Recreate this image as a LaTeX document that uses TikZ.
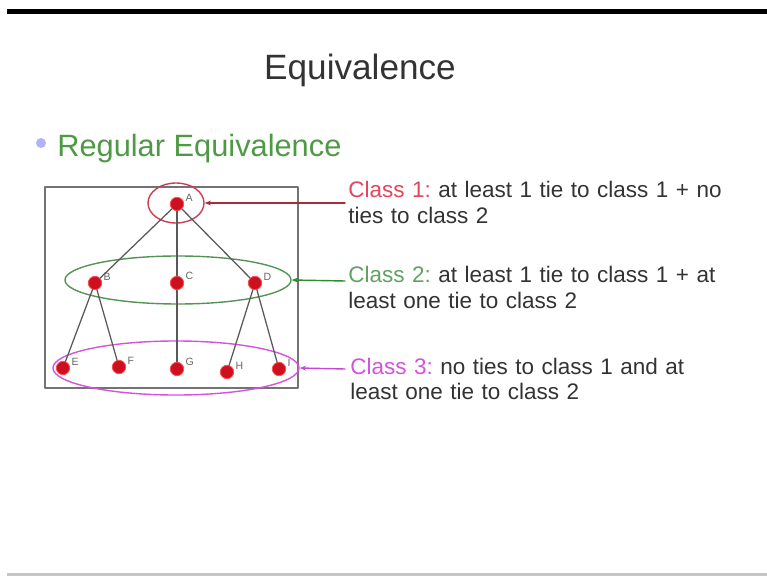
\documentclass[tikz,border=0pt]{standalone}
\usepackage{fontspec}
\setmainfont{Liberation Sans}
\usetikzlibrary{arrows.meta,shapes.geometric}

\definecolor{txtgray}{HTML}{333333}
\definecolor{subgreen}{HTML}{4E9A44}
\definecolor{cls1}{HTML}{E0465E}
\definecolor{cls2}{HTML}{5FA35F}
\definecolor{cls3}{HTML}{D452DC}
\definecolor{arr1}{HTML}{A82A3C}
\definecolor{arr2}{HTML}{2E8B2E}
\definecolor{arr3}{HTML}{C646D6}
\definecolor{dotred}{HTML}{CC1020}

\frenchspacing
\tikzset{
    vertex/.style={circle, fill=dotred, draw=red!70!white, line width=0.6pt, minimum size=9.5pt, inner sep=0pt},
    vlabel/.style={font=\fontsize{7.5}{7.5}\selectfont, text=gray!80!black, inner sep=1pt},
    tie/.style={draw=black!65, line width=0.9pt},
    classring/.style={ellipse, draw, line width=1pt, inner sep=0pt},
    classtext/.style={anchor=base west, inner sep=0pt, text width=10.5cm, align=left,
        font=\fontsize{16}{17.8}\selectfont, text=txtgray},
    pointer/.style={line width=1pt, -{Stealth[length=4.5pt, width=3.5pt]}}
}

\begin{document}
\begin{tikzpicture}[x=0.025cm, y=-0.025cm, line join=round, line cap=round]
    \useasboundingbox (0,0) rectangle (767,576);

    % slide frame
    \fill[black] (7,9) rectangle (767,14);
    \fill[gray!45] (7,573) rectangle (767,576);

    % heading
    \node[font=\fontsize{25}{25}\selectfont, text=txtgray, anchor=base] (title) at (360,80) {Equivalence};
    \fill[blue!30!white] (41,143) circle (5);
    \node[font=\fontsize{21.9}{21.9}\selectfont, text=subgreen, anchor=base west, inner sep=0pt] (sub) at (57,157) {Regular Equivalence};

    % network box
    \draw[black!55, line width=0.8pt] (45,187) rectangle (298,388);

    % class rings
    \node[classring, draw=cls1!90!black, minimum width=1.4cm, minimum height=1.0cm] (ring1) at (176,203) {};
    \node[classring, draw=cls2!90!black, minimum width=5.65cm, minimum height=1.2cm] (ring2) at (178,280) {};
    \node[classring, draw=cls3, minimum width=6.15cm, minimum height=1.35cm] (ring3) at (176,368) {};

    % vertices
    \node[vertex, label={[vlabel]10:A}] (A) at (177,204) {};
    \node[vertex, label={[vlabel]10:B}] (B) at (95,283) {};
    \node[vertex, label={[vlabel]10:C}] (C) at (177,283) {};
    \node[vertex, label={[vlabel]10:D}] (D) at (255,283) {};
    \node[vertex, label={[vlabel]10:E}] (E) at (63,368) {};
    \node[vertex, label={[vlabel]10:F}] (F) at (119,367) {};
    \node[vertex, label={[vlabel]10:G}] (G) at (177,369) {};
    \node[vertex, label={[vlabel]10:H}] (H) at (227,372) {};
    \node[vertex, label={[vlabel]10:I}] (I) at (279,369) {};

    % ties
    \foreach \u/\v in {A/B, A/C, A/D, B/E, B/F, C/G, D/H, D/I}
        \draw[tie] (\u) -- (\v);

    % class descriptions
    \node[classtext] (txt1) at (348,198) {\textcolor{cls1}{Class 1:} at least 1 tie to class 1 + no\\ties to class 2};
    \node[classtext] (txt2) at (348,283) {\textcolor{cls2}{Class 2:} at least 1 tie to class 1 + at\\least one tie to class 2};
    \node[classtext] (txt3) at (350,374) {\textcolor{cls3}{Class 3:} no ties to class 1 and at\\least one tie to class 2};

    \coordinate (p1) at (345,203);
    \coordinate (p2) at (345,281);
    \coordinate (p3) at (345,369);
    \draw[pointer, arr1] (p1) -- (ring1.east);
    \draw[pointer, arr2] (p2) -- (ring2.east);
    \draw[pointer, arr3] (p3) -- (ring3.east);
\end{tikzpicture}
\end{document}
